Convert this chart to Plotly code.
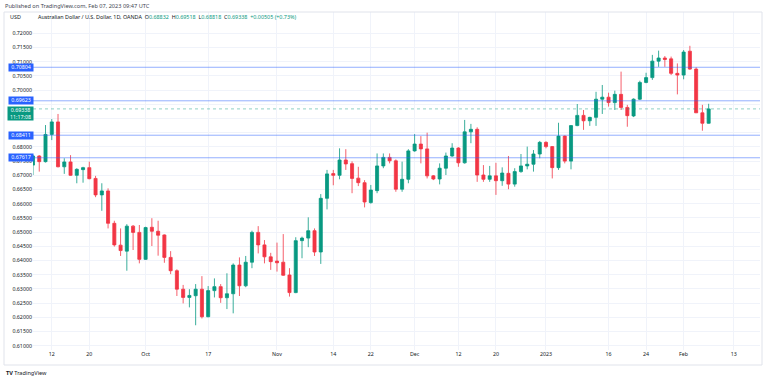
import pandas as pd
import plotly.graph_objects as go

# ---- data (AUD/USD daily, OANDA) ----
dates = [d.strftime("%Y-%m-%d") for d in pd.bdate_range("2022-09-07", "2023-02-07") if d.strftime("%Y-%m-%d") != "2022-12-26"]

opens = [0.6736, 0.6768, 0.6748, 0.6844, 0.6888, 0.6730, 0.6747, 0.6700, 0.6720, 0.6727,
         0.6689, 0.6631, 0.6645, 0.6531, 0.6454, 0.6433, 0.6521, 0.6499, 0.6404, 0.6517,
         0.6503, 0.6490, 0.6411, 0.6364, 0.6299, 0.6270, 0.6276, 0.6299, 0.6202, 0.6294,
         0.6308, 0.6269, 0.6283, 0.6384, 0.6311, 0.6394, 0.6499, 0.6455, 0.6413, 0.6398,
         0.6394, 0.6349, 0.6287, 0.6470, 0.6479, 0.6505, 0.6430, 0.6619, 0.6706, 0.6700,
         0.6754, 0.6741, 0.6690, 0.6674, 0.6604, 0.6646, 0.6733, 0.6763, 0.6751, 0.6651,
         0.6686, 0.6786, 0.6810, 0.6793, 0.6698, 0.6687, 0.6725, 0.6768, 0.6796, 0.6744,
         0.6853, 0.6862, 0.6701, 0.6686, 0.6698, 0.6681, 0.6707, 0.6669, 0.6713, 0.6733,
         0.6739, 0.6775, 0.6816, 0.6801, 0.6727, 0.6838, 0.6750, 0.6875, 0.6911, 0.6892,
         0.6904, 0.6968, 0.6975, 0.6956, 0.6985, 0.6939, 0.6909, 0.6968, 0.7027, 0.7044,
         0.7102, 0.7113, 0.7110, 0.7059, 0.7053, 0.7137, 0.7074, 0.6920, 0.68832]
highs = [0.6772, 0.6771, 0.6877, 0.6898, 0.6916, 0.6760, 0.6771, 0.6725, 0.6730, 0.6748,
         0.6698, 0.6672, 0.6654, 0.6540, 0.6513, 0.6528, 0.6525, 0.6525, 0.6519, 0.6549,
         0.6540, 0.6492, 0.6433, 0.6369, 0.6314, 0.6299, 0.6317, 0.6345, 0.6310, 0.6337,
         0.6317, 0.6355, 0.6390, 0.6411, 0.6416, 0.6505, 0.6521, 0.6472, 0.6427, 0.6463,
         0.6493, 0.6373, 0.6482, 0.6484, 0.6552, 0.6513, 0.6634, 0.6719, 0.6719, 0.6795,
         0.6792, 0.6749, 0.6730, 0.6683, 0.6666, 0.6777, 0.6777, 0.6777, 0.6756, 0.6748,
         0.6792, 0.6845, 0.6838, 0.6850, 0.6701, 0.6742, 0.6780, 0.6813, 0.6799, 0.6895,
         0.6881, 0.6869, 0.6736, 0.6733, 0.6744, 0.6728, 0.6768, 0.6725, 0.6775, 0.6801,
         0.6789, 0.6821, 0.6820, 0.6803, 0.6885, 0.6840, 0.6877, 0.6951, 0.6930, 0.6906,
         0.6994, 0.7018, 0.6991, 0.6998, 0.7065, 0.6948, 0.6971, 0.7033, 0.7061, 0.7124,
         0.7139, 0.7120, 0.7118, 0.7094, 0.7141, 0.7156, 0.7080, 0.6948, 0.69518]
lows = [0.6701, 0.6713, 0.6745, 0.6824, 0.6728, 0.6705, 0.6698, 0.6672, 0.6674, 0.6686,
        0.6623, 0.6575, 0.6513, 0.6449, 0.6416, 0.6364, 0.6437, 0.6390, 0.6402, 0.6451,
        0.6417, 0.6392, 0.6352, 0.6275, 0.6249, 0.6235, 0.6172, 0.6196, 0.6200, 0.6270,
        0.6251, 0.6229, 0.6214, 0.6275, 0.6306, 0.6373, 0.6425, 0.6390, 0.6367, 0.6361,
        0.6346, 0.6273, 0.6285, 0.6408, 0.6447, 0.6416, 0.6388, 0.6580, 0.6665, 0.6686,
        0.6719, 0.6637, 0.6662, 0.6587, 0.6600, 0.6637, 0.6725, 0.6742, 0.6642, 0.6642,
        0.6672, 0.6783, 0.6742, 0.6689, 0.6683, 0.6668, 0.6701, 0.6765, 0.6730, 0.6741,
        0.6813, 0.6677, 0.6677, 0.6677, 0.6631, 0.6663, 0.6651, 0.6660, 0.6709, 0.6721,
        0.6713, 0.6760, 0.6795, 0.6689, 0.6719, 0.6742, 0.6721, 0.6873, 0.6860, 0.6874,
        0.6874, 0.6916, 0.6942, 0.6930, 0.6930, 0.6871, 0.6905, 0.6965, 0.7024, 0.7036,
        0.7082, 0.7082, 0.7053, 0.6985, 0.7038, 0.7071, 0.6920, 0.6857, 0.68818]
closes = [0.6768, 0.6748, 0.6844, 0.6888, 0.6730, 0.6747, 0.6700, 0.6721, 0.6727, 0.6688,
          0.6631, 0.6645, 0.6531, 0.6455, 0.6435, 0.6521, 0.6499, 0.6404, 0.6516, 0.6503,
          0.6489, 0.6411, 0.6364, 0.6299, 0.6270, 0.6277, 0.6299, 0.6202, 0.6294, 0.6308,
          0.6269, 0.6283, 0.6384, 0.6311, 0.6394, 0.6499, 0.6455, 0.6413, 0.6396, 0.6392,
          0.6348, 0.6287, 0.6470, 0.6479, 0.6505, 0.6430, 0.6619, 0.6705, 0.6700, 0.6754,
          0.6740, 0.6689, 0.6674, 0.6606, 0.6648, 0.6733, 0.6763, 0.6751, 0.6651, 0.6686,
          0.6786, 0.6810, 0.6793, 0.6698, 0.6687, 0.6725, 0.6768, 0.6796, 0.6744, 0.6853,
          0.6862, 0.6701, 0.6686, 0.6698, 0.6681, 0.6708, 0.6669, 0.6713, 0.6733, 0.6739,
          0.6775, 0.6816, 0.6801, 0.6727, 0.6838, 0.6750, 0.6875, 0.6911, 0.6892, 0.6904,
          0.6968, 0.6975, 0.6956, 0.6985, 0.6939, 0.6910, 0.6968, 0.7027, 0.7044, 0.7102,
          0.7113, 0.7108, 0.7059, 0.7053, 0.7134, 0.7074, 0.6920, 0.68833, 0.69338]

level_lines = [0.70804, 0.69623, 0.68411, 0.67617]
last_price = 0.69338
countdown = "11:17:08"

x_tick_dates = ["2022-09-12", "2022-09-20", "2022-10-03", "2022-10-17", "2022-11-01",
                "2022-11-14", "2022-11-22", "2022-12-01", "2022-12-12", "2022-12-20",
                "2023-01-02", "2023-01-16", "2023-01-24", "2023-02-01", "2023-02-13"]
x_tick_text = ["12", "20", "Oct", "17", "Nov", "14", "22", "Dec", "12", "20",
               "2023", "16", "24", "Feb", "13"]
y_ticks = [round(0.61 + 0.005 * i, 3) for i in range(23)]
y_hidden = [0.695, 0.685]   # fully covered by price labels in the original

# ---- styling ----
GREEN = "#089981"
RED = "#F23645"
BLUE = "#2962FF"
GRID = "#f0f3fa"
TXT = "#131722"
FONT = "Noto Sans"

W, H = 768, 380
ML, MR, MT, MB = 33, 8, 12, 30
PW, PH = W - ML - MR, H - MT - MB


def px(xp):
    return (xp - ML) / PW


def py(yp):
    return (H - MB - yp) / PH


fig = go.Figure()
fig.add_trace(go.Candlestick(
    x=dates, open=opens, high=highs, low=lows, close=closes,
    increasing=dict(line=dict(color=GREEN, width=0.8), fillcolor=GREEN),
    decreasing=dict(line=dict(color=RED, width=0.8), fillcolor=RED),
    whiskerwidth=0, showlegend=False, hoverinfo="skip",
))

shapes = []
for lv in level_lines:
    shapes.append(dict(type="line", xref="paper", yref="y", x0=0, x1=1, y0=lv, y1=lv,
                       line=dict(color="rgba(41,98,255,0.5)", width=1), layer="above"))
shapes.append(dict(type="line", xref="paper", yref="y", x0=0, x1=1, y0=last_price, y1=last_price,
                   line=dict(color="rgba(8,153,129,0.45)", width=1, dash="dot"), layer="above"))
shapes.append(dict(type="rect", xref="paper", yref="paper", x0=px(4), x1=px(762), y0=py(365), y1=py(12),
                   line=dict(color="#e0e3eb", width=1), fillcolor="rgba(0,0,0,0)", layer="above"))

annotations = []
for lv in level_lines:
    annotations.append(dict(xref="paper", yref="y", x=px(20.5), y=lv, xanchor="center", yanchor="middle",
                            text=f"{lv:.5f}", showarrow=False, bgcolor=BLUE, borderpad=0,
                            width=24, height=6.5,
                            font=dict(family=FONT, size=5.3, color="white")))
annotations.append(dict(xref="paper", yref="paper", x=px(20.3), y=py(105.8), xanchor="center", yanchor="top",
                        text=f"{last_price:.5f}<br>{countdown}", showarrow=False, bgcolor=GREEN, borderpad=0,
                        width=25, height=12.5,
                        font=dict(family=FONT, size=5.3, color="white")))
annotations.append(dict(xref="paper", yref="paper", x=px(2.5), y=py(6), xanchor="left", yanchor="middle",
                        text="Published on TradingView.com, Feb 07, 2023 09:47 UTC", showarrow=False,
                        font=dict(family=FONT, size=5.6, color="#434651")))
annotations.append(dict(xref="paper", yref="paper", x=px(8), y=py(17), xanchor="left", yanchor="middle",
                        text="USD", showarrow=False, font=dict(family=FONT, size=5.4, color=TXT)))
o, h, l, c = opens[-1], highs[-1], lows[-1], closes[-1]
chg = c - closes[-2]
pct = chg / closes[-2] * 100
legend_txt = (f"Australian Dollar / U.S. Dollar, 1D, OANDA  "
              f"O<span style='color:{GREEN}'>{o:.5f}</span>  H<span style='color:{GREEN}'>{h:.5f}</span>  "
              f"L<span style='color:{GREEN}'>{l:.5f}</span>  C<span style='color:{GREEN}'>{c:.5f}</span>  "
              f"<span style='color:{GREEN}'>{chg:+.5f} ({pct:+.2f}%)</span>")
annotations.append(dict(xref="paper", yref="paper", x=px(35.5), y=py(17), xanchor="left", yanchor="middle",
                        text=legend_txt, showarrow=False, font=dict(family=FONT, size=5.4, color=TXT)))
annotations.append(dict(xref="paper", yref="paper", x=px(4), y=py(372.5), xanchor="left", yanchor="middle",
                        text="<b>TV</b> TradingView", showarrow=False,
                        font=dict(family=FONT, size=5.6, color=TXT)))

fig.update_layout(
    width=W, height=H,
    margin=dict(l=ML, r=MR, t=MT, b=MB, pad=0),
    paper_bgcolor="white", plot_bgcolor="white",
    font=dict(family=FONT, size=5.3, color=TXT),
    shapes=shapes, annotations=annotations,
    xaxis=dict(
        type="date",
        rangebreaks=[dict(bounds=["sat", "mon"]), dict(values=["2022-12-26"])],
        range=["2022-09-07", "2023-02-17 05:00"],
        tickmode="array", tickvals=x_tick_dates, ticktext=x_tick_text,
        showgrid=True, gridcolor=GRID, gridwidth=1, zeroline=False, showline=False,
        ticks="", tickfont=dict(family=FONT, size=5.3, color=TXT),
        rangeslider=dict(visible=False), fixedrange=True,
    ),
    yaxis=dict(
        range=[0.60849, 0.72750],
        tickmode="array", tickvals=y_ticks,
        ticktext=["" if v in y_hidden else f"{v:.5f}" for v in y_ticks],
        showgrid=True, gridcolor=GRID, gridwidth=1, zeroline=False, showline=False,
        ticks="", side="left", tickfont=dict(family=FONT, size=5.3, color=TXT), fixedrange=True,
    ),
)

fig.write_html("out.html", config={"displayModeBar": False, "staticPlot": True})

# the page's default 8px body margin would shift the figure; remove it
with open("out.html", "r", encoding="utf-8") as f:
    page = f.read()
page = page.replace("<head>", "<head><style>html,body{margin:0;padding:0;overflow:hidden;}</style>", 1)
with open("out.html", "w", encoding="utf-8") as f:
    f.write(page)
